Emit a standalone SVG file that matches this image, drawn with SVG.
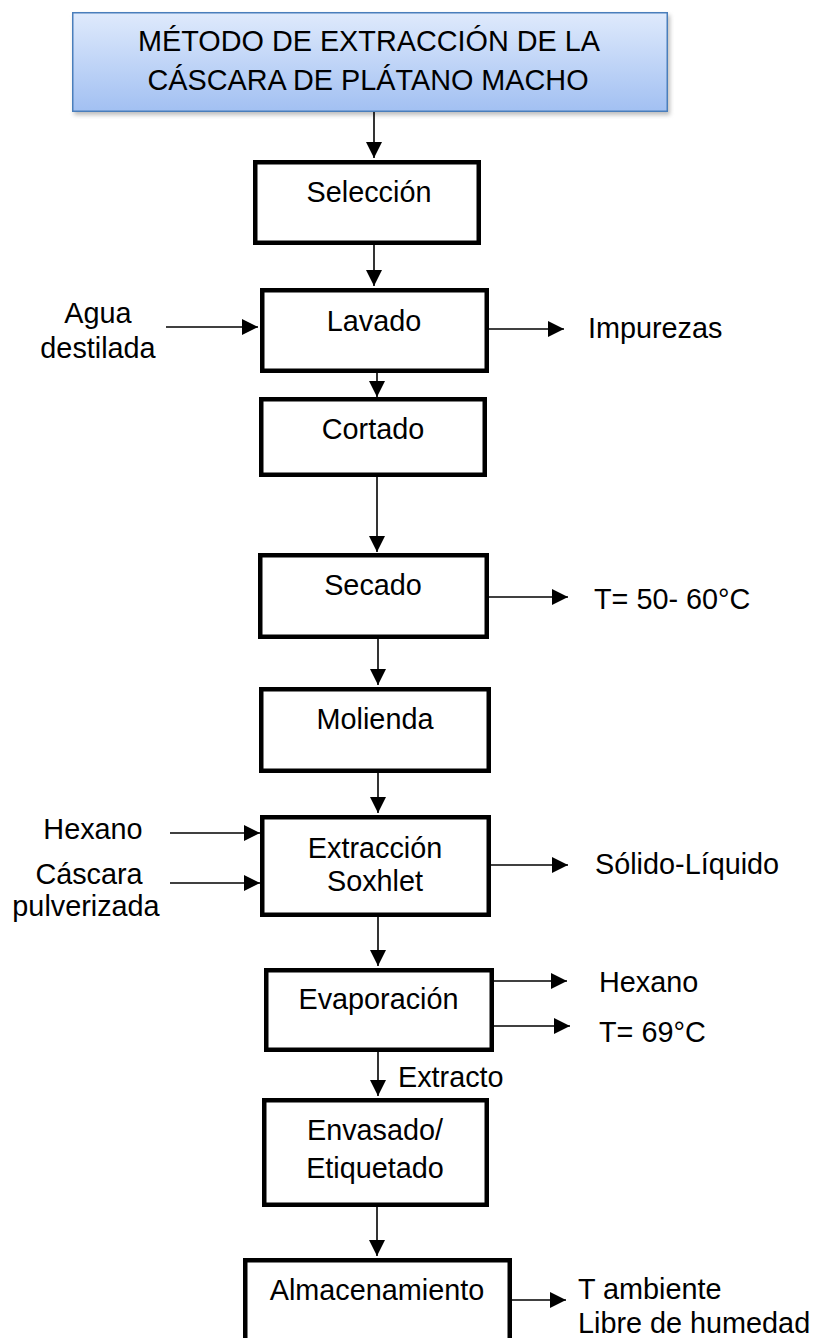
<svg xmlns="http://www.w3.org/2000/svg" width="835" height="1338" viewBox="0 0 835 1338">
<style>
text{font-family:"Liberation Sans",Arial,sans-serif;font-size:28.8px;fill:#000}
.m{text-anchor:middle}
.box{fill:#fff;stroke:#000;stroke-width:4.5}
.c line{stroke:#000;stroke-width:1.6;marker-end:url(#ah)}
</style>
<defs>
<linearGradient id="tg" x1="0" y1="0" x2="0" y2="1">
<stop offset="0" stop-color="#dfeafc"/>
<stop offset="1" stop-color="#a2c0f2"/>
</linearGradient>
<filter id="sh" x="-5%" y="-20%" width="110%" height="150%">
<feGaussianBlur stdDeviation="2"/>
</filter>
<marker id="ah" markerUnits="userSpaceOnUse" markerWidth="16" markerHeight="16" viewBox="0 0 14 14" refX="14" refY="7" orient="auto">
<path d="M0,0 L14,7 L0,14 Z" fill="#000"/>
</marker>
</defs>

<g id="title">
<rect x="74" y="15" width="596" height="100" fill="#888" opacity="0.55" filter="url(#sh)"/>
<rect x="72.75" y="12.75" width="594.5" height="98.5" fill="url(#tg)" stroke="#4a7ebb" stroke-width="1.5"/>
<text class="m" x="369" y="51">MÉTODO DE EXTRACCIÓN DE LA</text>
<text class="m" x="368" y="90">CÁSCARA DE PLÁTANO MACHO</text>
</g>

<g class="c" id="connectors">
<line x1="374" y1="112" x2="374" y2="158"/>
<line x1="374" y1="245" x2="374" y2="286"/>
<line x1="377" y1="372" x2="377" y2="397"/>
<line x1="377" y1="477" x2="377" y2="552"/>
<line x1="378" y1="639" x2="378" y2="685"/>
<line x1="378" y1="773" x2="378" y2="813"/>
<line x1="378" y1="917" x2="378" y2="966"/>
<line x1="378" y1="1052" x2="378" y2="1096"/>
<line x1="377" y1="1207" x2="377" y2="1256"/>
<line x1="166" y1="327" x2="258" y2="327"/>
<line x1="489" y1="329" x2="564" y2="329"/>
<line x1="489" y1="597" x2="568" y2="597"/>
<line x1="170" y1="833" x2="260" y2="833"/>
<line x1="170" y1="883" x2="260" y2="883"/>
<line x1="491" y1="865" x2="568" y2="865"/>
<line x1="494" y1="981" x2="567" y2="981"/>
<line x1="489" y1="1026" x2="570" y2="1026"/>
<line x1="512" y1="1300" x2="566" y2="1300"/>
</g>

<g id="seleccion">
<rect class="box" x="255.25" y="162.25" width="223.5" height="80.5"/>
<text class="m" x="369" y="202">Selección</text>
</g>

<g id="lavado">
<rect class="box" x="262.25" y="290.25" width="224.5" height="80.5"/>
<text class="m" x="374" y="331">Lavado</text>
</g>

<g id="cortado">
<rect class="box" x="261.25" y="399.25" width="223.5" height="75.5"/>
<text class="m" x="373" y="439">Cortado</text>
</g>

<g id="secado">
<rect class="box" x="260.25" y="555.25" width="226.5" height="81.5"/>
<text class="m" x="373" y="595">Secado</text>
</g>

<g id="molienda">
<rect class="box" x="261.25" y="689.25" width="227.5" height="81.5"/>
<text class="m" x="375" y="729">Molienda</text>
</g>

<g id="extraccion">
<rect class="box" x="262.25" y="817.25" width="226.5" height="97.5"/>
<text class="m" x="375" y="858">Extracción</text>
<text class="m" x="375" y="891">Soxhlet</text>
</g>

<g id="evaporacion">
<rect class="box" x="266.25" y="970.25" width="225.5" height="79.5"/>
<text class="m" x="378.5" y="1009">Evaporación</text>
</g>

<g id="envasado">
<rect class="box" x="264.25" y="1100.25" width="222.5" height="104.5"/>
<text class="m" x="375" y="1140">Envasado/</text>
<text class="m" x="375" y="1178">Etiquetado</text>
</g>

<g id="almacenamiento">
<rect class="box" x="245.25" y="1260.25" width="264.5" height="90"/>
<text class="m" x="377" y="1300">Almacenamiento</text>
</g>

<g id="labels">
<text class="m" x="98" y="323">Agua</text>
<text class="m" x="98" y="358">destilada</text>
<text x="588" y="338">Impurezas</text>
<text x="594" y="609">T= 50- 60°C</text>
<text class="m" x="93" y="839">Hexano</text>
<text class="m" x="89" y="884">Cáscara</text>
<text class="m" x="86" y="916">pulverizada</text>
<text x="595" y="874">Sólido-Líquido</text>
<text x="599" y="992">Hexano</text>
<text x="599" y="1042">T= 69°C</text>
<text x="398" y="1087">Extracto</text>
<text x="578" y="1299">T ambiente</text>
<text x="578" y="1333">Libre de humedad</text>
</g>
</svg>
